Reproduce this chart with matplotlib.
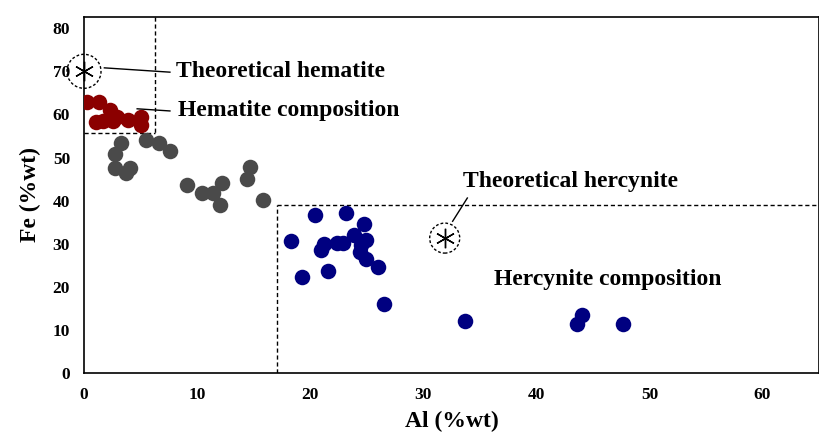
import matplotlib
matplotlib.use("Agg")
import matplotlib.pyplot as plt
from matplotlib.patches import Ellipse

# Data
hem_al = [0.3, 1.3, 2.3, 1.1, 1.7, 2.6, 3.9, 5.0, 5.0, 2.9]
hem_fe = [62.8, 62.8, 61.1, 58.2, 58.5, 58.5, 58.7, 59.4, 57.5, 59.3]

mid_al = [3.3, 2.7, 2.7, 3.7, 4.1, 5.5, 6.6, 7.6, 9.1, 10.4, 11.4, 12.0, 12.2, 14.4, 14.7, 15.8]
mid_fe = [53.4, 50.8, 47.5, 46.3, 47.5, 54.1, 53.3, 51.5, 43.6, 41.8, 41.8, 39.0, 44.2, 44.9, 47.9, 40.1]

her_al = [20.4, 23.2, 24.8, 18.3, 21.2, 21.0, 22.4, 22.9, 23.9, 24.9, 24.4, 24.9, 26.0,
          21.6, 19.3, 26.5, 33.7, 44.0, 43.6, 47.7, 24.5]
her_fe = [36.7, 37.1, 34.6, 30.7, 29.9, 28.5, 30.2, 30.2, 32.0, 30.9, 28.1, 26.4, 24.5,
          23.7, 22.2, 16.0, 12.1, 13.5, 11.3, 11.4, 29.8]

theo_hem = (0.0, 70.0)
theo_her = (31.9, 31.3)

hem_box = (6.3, 55.7)
her_box = (17.1, 39.0)

xticks = [0, 10, 20, 30, 40, 50, 60]
yticks = [0, 10, 20, 30, 40, 50, 60, 70, 80]

serif = ["Liberation Serif", "DejaVu Serif"]

fig = plt.figure(figsize=(8.19, 4.37), dpi=100)
ax = fig.add_axes([84/819, 1-373/437, 1-84/819, (373-17)/437])
ax.set_xlim(0, 65)
ax.set_ylim(0, 82.6)

ms = 125
ax.scatter(mid_al, mid_fe, s=ms, color="#4a4a4a", zorder=3, linewidths=0)
ax.scatter(hem_al, hem_fe, s=ms, color="#8b0000", zorder=3, linewidths=0)
ax.scatter(her_al, her_fe, s=ms, color="#000080", zorder=3, linewidths=0)

# theoretical markers
for (x, y) in [theo_hem, theo_her]:
    ax.plot([x], [y], marker=(6, 2, 0), markersize=14, color="black", mew=1.0, zorder=4, clip_on=False)

# dashed circles (in pixel-consistent size)
def circ(x, y, rpx):
    w = rpx / 11.3 * 2
    h = rpx / 4.31 * 2
    e = Ellipse((x, y), w, h, fill=False, ls=(0, (2, 1.5)), lw=1.0, color="black", clip_on=False, zorder=4)
    ax.add_patch(e)

circ(*theo_hem, 17)
circ(*theo_her, 15)

# dashed boxes
dash = dict(color="black", lw=1.0, ls=(0, (3, 2)), zorder=2)
ax.plot([hem_box[0], hem_box[0]], [82.6, hem_box[1]], **dash)
ax.plot([0, hem_box[0]], [hem_box[1], hem_box[1]], **dash)
ax.plot([her_box[0], her_box[0]], [0, her_box[1]], **dash)
ax.plot([her_box[0], 65], [her_box[1], her_box[1]], **dash)

tfont = dict(family=serif, fontweight="bold", fontsize=17, color="black")
# annotations
ax.plot([1.8, 7.6], [70.8, 69.8], color="black", lw=1.0, zorder=4)
ax.text(8.1, 70.0, "Theoretical hematite", va="center", ha="left", **tfont)
ax.plot([4.7, 7.6], [61.3, 60.8], color="black", lw=1.0, zorder=4)
ax.text(8.3, 61.0, "Hematite composition", va="center", ha="left", **tfont)
ax.plot([32.6, 33.9], [35.2, 40.6], color="black", lw=1.0, zorder=4)
ax.text(33.5, 44.5, "Theoretical hercynite", va="center", ha="left", **tfont)
ax.text(36.3, 21.8, "Hercynite composition", va="center", ha="left", **tfont)

ax.set_xticks(xticks)
ax.set_yticks(yticks)
ax.tick_params(length=0, pad=10)
for lab in ax.get_xticklabels() + ax.get_yticklabels():
    lab.set_fontfamily(serif)
    lab.set_fontweight("bold")
    lab.set_fontsize(12.5)
ax.set_xlabel("Al (%wt)", fontfamily=serif, fontweight="bold", fontsize=17, labelpad=6)
ax.set_ylabel("Fe (%wt)", fontfamily=serif, fontweight="bold", fontsize=17, labelpad=8)
for sp in ax.spines.values():
    sp.set_linewidth(1.2)

fig.savefig("out.png", dpi=100)
